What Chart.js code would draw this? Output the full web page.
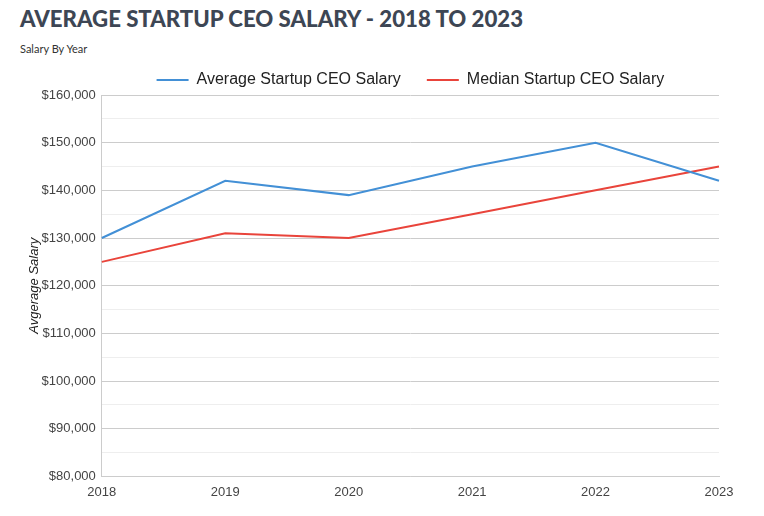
<!DOCTYPE html>
<html>
<head>
<meta charset="utf-8">
<script src="https://cdn.jsdelivr.net/npm/chart.js@4.4.1/dist/chart.umd.min.js"></script>
<style>
  body { margin: 0; background: #fff; width: 764px; height: 516px; overflow: hidden; }
  h1 { position: absolute; left: 20px; top: 5px; margin: 0; font: 900 22.2px Lato, sans-serif; color: #3d4654; }
  .sub { position: absolute; left: 20px; top: 42px; font: 11px Lato, sans-serif; color: #333; }
  .wrap { position: absolute; left: 0; top: 43px; width: 764px; height: 473px; }
</style>
</head>
<body>
<h1>AVERAGE STARTUP CEO SALARY - 2018 TO 2023</h1>
<div class="sub">Salary By Year</div>
<div class="wrap"><canvas id="salaryChart"></canvas></div>
<script>
const years = ['2018', '2019', '2020', '2021', '2022', '2023'];
const averageSalary = [130000, 142000, 139000, 145000, 150000, 142000];
const medianSalary = [125000, 131000, 130000, 135000, 140000, 145000];
const yMin = 80000;
const yMax = 160000;
const yStep = 5000;

// keep the legend centred over the plot area, like the original
const legendOverPlot = {
    id: 'legendOverPlot',
    afterLayout: function(chart) {
        const lg = chart.legend;
        lg.left = chart.chartArea.left;
        lg.right = chart.chartArea.right;
        lg.top += 3;
    }
};

const ctx = document.getElementById('salaryChart').getContext('2d');
const chart = new Chart(ctx, {
    type: 'line',
    data: {
        labels: years,
        datasets: [{
            label: 'Average Startup CEO Salary',
            data: averageSalary,
            borderColor: '#4390d6',
            backgroundColor: '#4390d6',
            borderWidth: 2,
            pointRadius: 0,
            tension: 0
        }, {
            label: 'Median Startup CEO Salary',
            data: medianSalary,
            borderColor: '#e9443b',
            backgroundColor: '#e9443b',
            borderWidth: 2,
            pointRadius: 0,
            tension: 0
        }]
    },
    plugins: [legendOverPlot],
    options: {
        responsive: true,
        maintainAspectRatio: false,
        animation: false,
        layout: { padding: { left: 20, right: 45, top: 0, bottom: 8 } },
        plugins: {
            legend: {
                labels: {
                    boxWidth: 32,
                    boxHeight: 2,
                    color: '#222',
                    padding: 26,
                    font: { family: 'Liberation Sans, Arial', size: 16 },
                    generateLabels: function(c) {
                        const items = Chart.defaults.plugins.legend.labels.generateLabels(c);
                        items.forEach(function(i) { i.lineWidth = 0; });
                        return items;
                    }
                }
            },
            tooltip: { enabled: false }
        },
        scales: {
            x: {
                offset: false,
                grid: { display: false, drawTicks: false },
                border: { color: '#ccc' },
                ticks: { color: '#444', font: { family: 'Liberation Sans, Arial', size: 13 }, maxRotation: 0, padding: 8 }
            },
            y: {
                min: yMin,
                max: yMax,
                grid: {
                    drawTicks: false,
                    color: function(c) { return c.tick && c.tick.value % 10000 === 0 ? '#ccc' : '#eee'; }
                },
                border: { color: '#ccc' },
                ticks: {
                    stepSize: yStep,
                    autoSkip: false,
                    padding: 6,
                    color: '#444',
                    font: { family: 'Liberation Sans, Arial', size: 13 },
                    callback: function(v) { return v % 10000 === 0 ? '$' + v.toLocaleString('en-US') : ''; }
                },
                title: {
                    display: true,
                    text: 'Avgerage Salary',
                    color: '#222',
                    font: { family: 'Liberation Sans, Arial', size: 13, style: 'italic' },
                    padding: { top: 7, bottom: -7 }
                }
            }
        }
    }
});
</script>
</body>
</html>
